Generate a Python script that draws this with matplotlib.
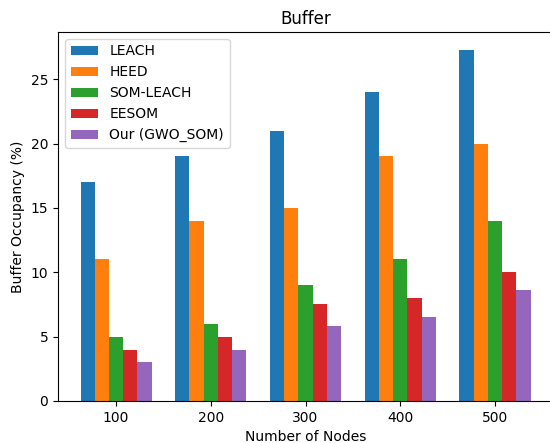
import numpy as np
import matplotlib
matplotlib.use("Agg")
import matplotlib.pyplot as plt

nodes = ["100", "200", "300", "400", "500"]
leach = [17, 19, 21, 24, 27.3]
heed = [11, 14, 15, 19, 20]
som_leach = [5, 6, 9, 11, 14]
eesom = [4, 5, 7.5, 8, 10]
gwo_som = [3, 4, 5.8, 6.5, 8.6]

series = [
    ("LEACH", leach),
    ("HEED", heed),
    ("SOM-LEACH", som_leach),
    ("EESOM", eesom),
    ("Our (GWO_SOM)", gwo_som),
]

fig = plt.figure(figsize=(5.5, 4.43), dpi=100)
ax = fig.add_axes([58 / 550, 1 - 401 / 443, (553 - 58) / 550, (401 - 32) / 443])

x = np.arange(len(nodes))
width = 0.15
for i, (name, vals) in enumerate(series):
    ax.bar(x + (i - 2) * width, vals, width, label=name)

ax.set_xticks(x)
ax.set_xticklabels(nodes)
ax.set_xlabel("Number of Nodes")
ax.set_ylabel("Buffer Occupancy (%)")
ax.set_title("Buffer")
ax.legend(loc="upper left")

fig.savefig("out.png", dpi=100)
